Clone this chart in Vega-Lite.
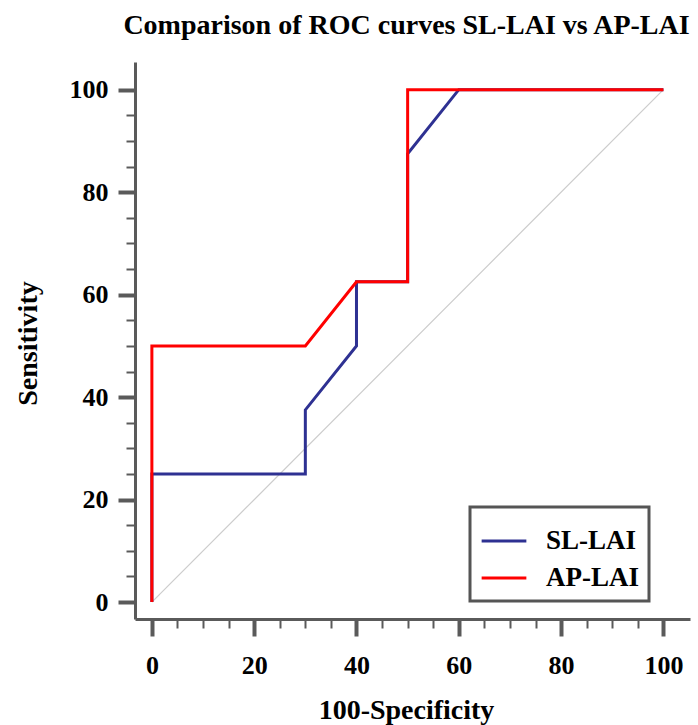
{
  "$schema": "https://vega.github.io/schema/vega-lite/v6.json",
  "autosize": "none",
  "padding": {"left": 135, "top": 62, "right": 8, "bottom": 106},
  "width": 555,
  "height": 557,
  "background": "white",
  "title": {
    "text": "Comparison of ROC curves SL-LAI vs AP-LAI",
    "font": "Liberation Serif",
    "fontSize": 28,
    "fontWeight": "bold",
    "color": "#000000",
    "anchor": "middle",
    "dx": -6,
    "offset": 22
  },
  "config": {
    "view": {"stroke": null},
    "axis": {
      "domainColor": "#5a5a5a",
      "domainWidth": 3,
      "tickColor": "#5a5a5a",
      "grid": false,
      "labelFont": "Liberation Serif",
      "labelFontSize": 26,
      "labelFontWeight": "bold",
      "labelColor": "#000000",
      "titleFont": "Liberation Serif",
      "titleFontSize": 28,
      "titleFontWeight": "bold",
      "titleColor": "#000000"
    },
    "legend": {
      "labelFont": "Liberation Serif",
      "labelFontSize": 27,
      "labelFontWeight": "bold",
      "labelColor": "#000000"
    }
  },
  "datasets": {
    "roc": [
      {"curve": "SL-LAI", "o": 1, "fpr": 0, "tpr": 0},
      {"curve": "SL-LAI", "o": 2, "fpr": 0, "tpr": 25},
      {"curve": "SL-LAI", "o": 3, "fpr": 30, "tpr": 25},
      {"curve": "SL-LAI", "o": 4, "fpr": 30, "tpr": 37.5},
      {"curve": "SL-LAI", "o": 5, "fpr": 40, "tpr": 50},
      {"curve": "SL-LAI", "o": 6, "fpr": 40, "tpr": 62.5},
      {"curve": "SL-LAI", "o": 7, "fpr": 50, "tpr": 62.5},
      {"curve": "SL-LAI", "o": 8, "fpr": 50, "tpr": 87.5},
      {"curve": "SL-LAI", "o": 9, "fpr": 60, "tpr": 100},
      {"curve": "SL-LAI", "o": 10, "fpr": 100, "tpr": 100},
      {"curve": "AP-LAI", "o": 1, "fpr": 0, "tpr": 0},
      {"curve": "AP-LAI", "o": 2, "fpr": 0, "tpr": 50},
      {"curve": "AP-LAI", "o": 3, "fpr": 30, "tpr": 50},
      {"curve": "AP-LAI", "o": 4, "fpr": 40, "tpr": 62.5},
      {"curve": "AP-LAI", "o": 5, "fpr": 50, "tpr": 62.5},
      {"curve": "AP-LAI", "o": 6, "fpr": 50, "tpr": 100},
      {"curve": "AP-LAI", "o": 7, "fpr": 100, "tpr": 100}
    ],
    "diag": [
      {"o": 1, "fpr": 0, "tpr": 0},
      {"o": 2, "fpr": 100, "tpr": 100}
    ]
  },
  "encoding": {
    "x": {
      "field": "fpr",
      "type": "quantitative",
      "scale": {"domain": [-3.3, 105.2], "nice": false, "zero": false},
      "axis": {
        "title": "100-Specificity",
        "titleX": 271,
        "values": [0, 5, 10, 15, 20, 25, 30, 35, 40, 45, 50, 55, 60, 65, 70, 75, 80, 85, 90, 95, 100],
        "labelExpr": "datum.value % 20 === 0 ? datum.label : ''",
        "tickSize": {"condition": {"test": "datum.value % 20 === 0", "value": 17}, "value": 9},
        "tickWidth": {"condition": {"test": "datum.value % 20 === 0", "value": 4}, "value": 2},
        "labelPadding": 16,
        "titlePadding": 18,
        "labelFlush": false,
        "labelOverlap": false
      }
    },
    "y": {
      "field": "tpr",
      "type": "quantitative",
      "scale": {"domain": [-3.3, 105.4], "nice": false, "zero": false},
      "axis": {
        "title": "Sensitivity",
        "titleY": 281,
        "values": [0, 5, 10, 15, 20, 25, 30, 35, 40, 45, 50, 55, 60, 65, 70, 75, 80, 85, 90, 95, 100],
        "labelExpr": "datum.value % 20 === 0 ? datum.label : ''",
        "tickSize": {"condition": {"test": "datum.value % 20 === 0", "value": 17}, "value": 9},
        "tickWidth": {"condition": {"test": "datum.value % 20 === 0", "value": 4}, "value": 2},
        "labelPadding": 10,
        "titlePadding": 27,
        "labelFlush": false,
        "labelOverlap": false
      }
    }
  },
  "layer": [
    {
      "data": {"name": "diag"},
      "mark": {"type": "line", "color": "#cccccc", "strokeWidth": 1.2},
      "encoding": {"order": {"field": "o", "type": "quantitative"}}
    },
    {
      "data": {"name": "roc"},
      "transform": [{"filter": "datum.curve === 'SL-LAI'"}],
      "mark": {"type": "line", "strokeWidth": 3},
      "encoding": {
        "order": {"field": "o", "type": "quantitative"},
        "color": {
          "field": "curve",
          "type": "nominal",
          "scale": {"domain": ["SL-LAI", "AP-LAI"], "range": ["#2e3192", "#ff0000"]},
          "legend": {
            "title": null,
            "orient": "none",
            "legendX": 335,
            "legendY": 445,
            "symbolType": "stroke",
            "symbolSize": 2000,
            "symbolStrokeWidth": 3,
            "strokeColor": "#555555",
            "padding": 10,
            "rowPadding": -12.7,
            "labelOffset": 18,
            "labelExpr": "datum.label + '\u00a0\u00a0'",
            "encode": {"legend": {"update": {"strokeWidth": {"value": 3}}}}
          }
        }
      }
    },
    {
      "data": {"name": "roc"},
      "transform": [{"filter": "datum.curve === 'AP-LAI'"}],
      "mark": {"type": "line", "strokeWidth": 3},
      "encoding": {
        "order": {"field": "o", "type": "quantitative"},
        "color": {"field": "curve", "type": "nominal"}
      }
    }
  ]
}
